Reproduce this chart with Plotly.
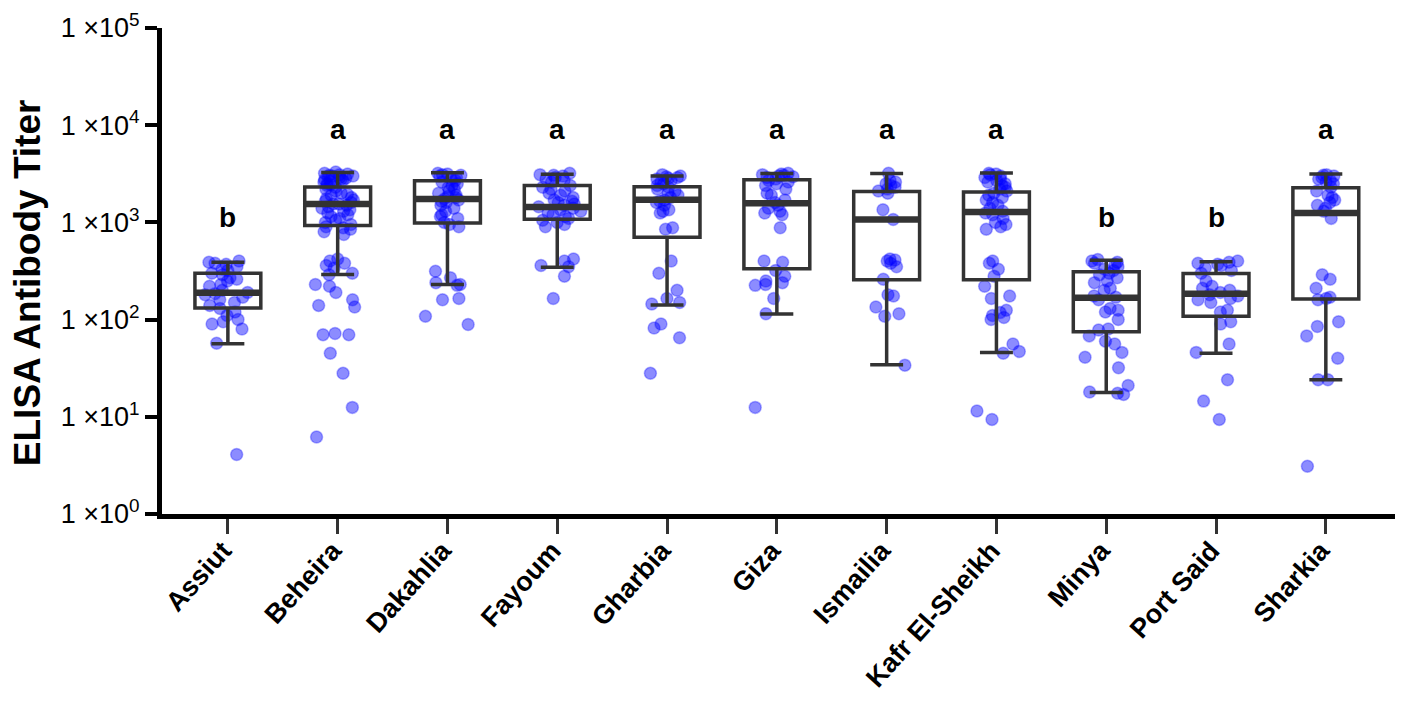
import plotly.graph_objects as go

regions = ['Assiut', 'Beheira', 'Dakahlia', 'Fayoum', 'Gharbia', 'Giza',
           'Ismailia', 'Kafr El-Sheikh', 'Minya', 'Port Said', 'Sharkia']

# box summary (whiskers as drawn)
q1 = [132, 927, 987, 1076, 704, 333, 257, 257, 75, 108, 163]
median = [189, 1550, 1740, 1440, 1714, 1574, 1068, 1280, 168, 184, 1250]
q3 = [300, 2310, 2690, 2400, 2330, 2750, 2085, 2055, 310, 298, 2276]
lower = [56.5, 291, 230, 346, 141, 114, 34.4, 46, 17.8, 45, 24]
upper = [390, 3270, 3245, 3120, 3000, 3190, 3190, 3220, 408, 393, 3145]

letters = ['b', 'a', 'a', 'a', 'a', 'a', 'a', 'a', 'b', 'b', 'a']

titers = {
    'Assiut': [400, 390, 380, 370, 350, 330, 320, 300, 290, 270, 260, 250, 230, 220,
               200, 190, 185, 180, 170, 160, 150, 140, 130, 120, 110, 100, 95, 90, 80,
               57, 4.1],
    'Beheira': [3300, 3200, 3150, 3100, 3050, 3000, 3000, 2950, 2900, 2850, 2800, 2750,
                2700, 2650, 2600, 2500, 2450, 2400, 2300, 2200, 2100, 2000, 1950, 1900,
                1800, 1750, 1700, 1650, 1600, 1550, 1550, 1500, 1450, 1400, 1350, 1300,
                1250, 1200, 1150, 1100, 1050, 1000, 950, 900, 880, 850, 800, 750, 420,
                400, 380, 360, 340, 300, 290, 230, 220, 190, 160, 140, 135, 72, 70, 70,
                45, 28, 12.5, 6.2],
    'Dakahlia': [3200, 3150, 3100, 3050, 3000, 2900, 2800, 2700, 2600, 2500, 2400, 2300,
                 2200, 2100, 2000, 1900, 1850, 1800, 1750, 1700, 1650, 1600, 1500, 1400,
                 1300, 1200, 1150, 1100, 1000, 950, 900, 315, 270, 240, 230, 225, 165,
                 160, 108, 89],
    'Fayoum': [3200, 3100, 3050, 3000, 2900, 2800, 2700, 2600, 2400, 2300, 2200, 2100,
               2000, 1900, 1800, 1700, 1650, 1600, 1550, 1500, 1450, 1400, 1350, 1300,
               1250, 1200, 1150, 1100, 1050, 1000, 950, 900, 420, 400, 360, 350, 280, 165],
    'Gharbia': [3100, 3000, 2950, 2900, 2850, 2800, 2700, 2600, 2500, 2400, 2300, 2200,
                2100, 2000, 1900, 1800, 1700, 1650, 1600, 1500, 1350, 1300, 1250, 880,
                850, 400, 300, 200, 165, 150, 145, 90, 82, 65, 28],
    'Giza': [3200, 3150, 3100, 3050, 3000, 2950, 2900, 2800, 2700, 2600, 2500, 2400,
             2200, 2000, 1900, 1700, 1600, 1500, 1400, 1300, 1250, 1200, 880, 400, 390,
             320, 280, 250, 240, 230, 225, 165, 115, 12.5],
    'Ismailia': [3200, 2700, 2600, 2500, 2400, 2300, 2200, 2100, 2000, 1350, 1070, 420,
                 410, 400, 380, 350, 260, 180, 175, 135, 115, 108, 34],
    'Kafr El-Sheikh': [3200, 3150, 3100, 3000, 2900, 2800, 2700, 2600, 2500, 2400, 2300,
                       2200, 2100, 2000, 1900, 1800, 1700, 1600, 1500, 1400, 1300, 1250,
                       1200, 1100, 1000, 950, 900, 850, 400, 380, 330, 280, 220, 175,
                       165, 125, 118, 110, 105, 100, 56, 47, 45, 11.5, 9.4],
    'Minya': [415, 400, 390, 380, 370, 350, 330, 320, 300, 290, 270, 250, 240, 210, 200,
              175, 170, 160, 130, 125, 120, 100, 80, 78, 68, 60, 56, 46, 41, 32, 21, 18,
              17.5, 17],
    'Port Said': [400, 390, 380, 370, 360, 340, 320, 300, 250, 220, 210, 200, 190, 180,
                  175, 165, 160, 150, 125, 120, 95, 90, 56, 46, 24, 14.5, 9.4],
    'Sharkia': [3100, 3050, 3000, 2900, 2800, 2700, 2600, 2500, 2300, 2100, 1900, 1800,
                1700, 1600, 1500, 1400, 1300, 1100, 290, 260, 210, 170, 165, 160, 95, 85,
                68, 40, 24, 24, 3.1],
}

tick_vals = [1, 10, 100, 1000, 10000, 100000]
tick_text = ['1 \u00d710<sup>%d</sup>' % i for i in range(6)]

BOX_GREY = '#333333'
FONT = 'Liberation Sans, Arial, sans-serif'

fig = go.Figure()

# jittered points (box itself hidden)
pt_x, pt_y = [], []
for r in regions:
    pt_x += [r] * len(titers[r])
    pt_y += titers[r]

fig.add_trace(go.Box(
    x=pt_x, y=pt_y, boxpoints='all', jitter=0.75, pointpos=0, width=0.6,
    line=dict(width=0, color='rgba(0,0,0,0)'), fillcolor='rgba(0,0,0,0)',
    marker=dict(size=12, color='rgba(0,0,255,0.45)',
                line=dict(color='rgba(0,0,255,0.3)', width=1.5)),
    showlegend=False, hoveron='points'))

fig.add_trace(go.Box(
    x=regions, q1=q1, median=median, q3=q3, lowerfence=lower, upperfence=upper,
    width=0.6, whiskerwidth=0.5, boxpoints=False,
    line=dict(color=BOX_GREY, width=3.5), fillcolor='rgba(0,0,0,0)',
    showlegend=False))

# thicker median bar
fig.add_trace(go.Scatter(
    x=regions, y=median, mode='markers', showlegend=False, hoverinfo='skip',
    marker=dict(symbol='line-ew', size=47, line=dict(color=BOX_GREY, width=6.5))))

for r, let in zip(regions, letters):
    fig.add_annotation(x=r, y=3.96 if let == 'a' else 3.05, text='<b>%s</b>' % let,
                       showarrow=False, font=dict(size=28, color='black'))

# y axis title placed as a paper annotation
fig.add_annotation(x=-0.1095, y=0.477, xref='paper', yref='paper',
                   xanchor='center', yanchor='middle',
                   text='<b>ELISA Antibody Titer</b>', textangle=-90, showarrow=False,
                   font=dict(size=37, color='black'))

# the page body adds 8px, so the figure is a little smaller than the window
fig.update_layout(
    width=1389, height=687,
    margin=dict(l=154, r=2, t=20, b=181, autoexpand=False),
    paper_bgcolor='white', plot_bgcolor='white',
    font=dict(family=FONT, color='black'),
    boxmode='overlay',
)

fig.update_xaxes(
    type='category', range=[-0.60, 10.63], automargin=False,
    showline=True, linecolor='black', linewidth=5,
    ticks='outside', ticklen=15, tickwidth=3, tickcolor=BOX_GREY,
    tickangle=-48, tickfont=dict(size=27, family=FONT),
    ticklabelstandoff=-10, ticklabelshift=-5,
    ticktext=['<b>%s</b>' % r for r in regions], tickvals=regions,
    showgrid=False, zeroline=False,
)

fig.update_yaxes(
    type='log', range=[0, 5], automargin=False,
    tickvals=tick_vals, ticktext=tick_text,
    showline=True, linecolor='black', linewidth=5,
    ticks='outside', ticklen=12, tickwidth=4, tickcolor='black',
    tickfont=dict(size=27),
    showgrid=False, zeroline=False,
)

fig.write_html('out.html')
